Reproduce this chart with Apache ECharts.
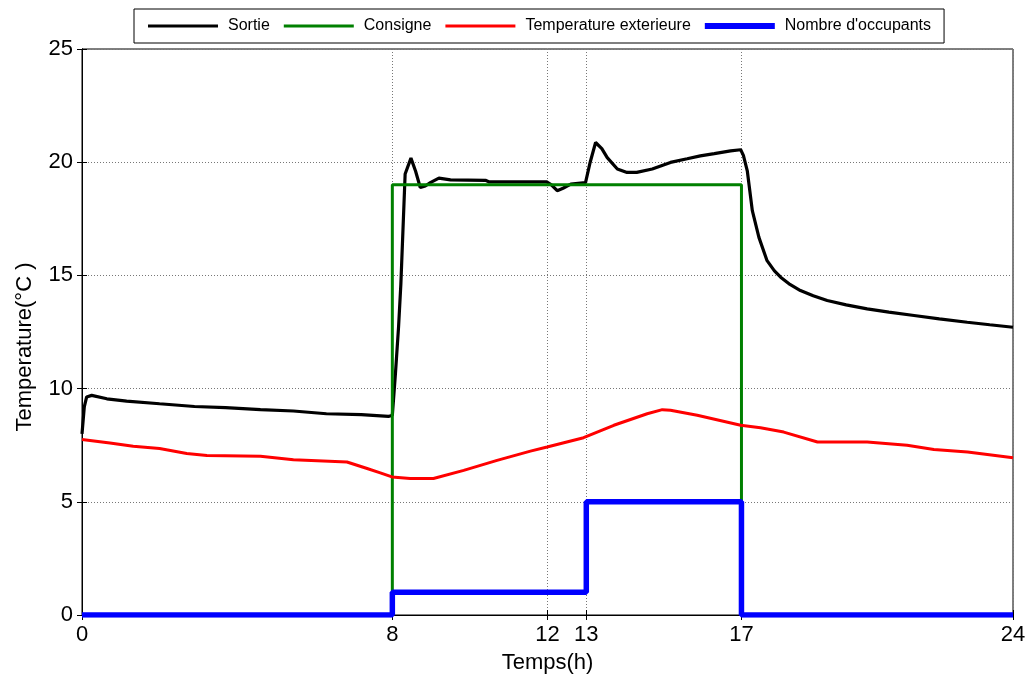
<!DOCTYPE html>
<html>
<head>
<meta charset="utf-8">
<script src="https://cdn.jsdelivr.net/npm/echarts@6/dist/echarts.min.js"></script>
<style>
html,body{margin:0;padding:0;background:#fff;}
#c{width:1029px;height:680px;}
</style>
</head>
<body>
<div id="c"></div>
<script>
// ---- data ----
const xTicks = [0, 8, 12, 13, 17, 24];
const yTicks = [0, 5, 10, 15, 20, 25];

const sortieT = [0, 0.06, 0.12, 0.25, 0.64, 1.15, 2.0, 2.9, 3.7, 4.6, 5.45, 6.3, 7.2, 7.9, 8.0, 8.08, 8.16, 8.22, 8.27, 8.33, 8.48, 8.6, 8.72, 8.85, 8.98, 9.2, 9.5, 10.4, 10.5, 11.98, 12.1, 12.25, 12.4, 12.6, 12.98, 13.1, 13.24, 13.4, 13.54, 13.8, 14.05, 14.3, 14.7, 15.17, 15.6, 15.94, 16.3, 16.72, 16.98, 17.05, 17.15, 17.28, 17.45, 17.66, 17.85, 18.01, 18.25, 18.52, 18.85, 19.21, 19.7, 20.24, 20.8, 21.45, 22.1, 22.82, 23.4, 24];
const sortieV = [8.0, 9.2, 9.63, 9.7, 9.55, 9.45, 9.33, 9.21, 9.16, 9.07, 9.01, 8.89, 8.85, 8.77, 8.82, 10.66, 12.71, 14.62, 16.83, 19.48, 20.18, 19.6, 18.88, 18.95, 19.1, 19.3, 19.22, 19.2, 19.13, 19.13, 19.0, 18.74, 18.85, 19.03, 19.1, 20.0, 20.87, 20.6, 20.2, 19.7, 19.55, 19.55, 19.7, 19.99, 20.15, 20.28, 20.38, 20.5, 20.55, 20.3, 19.62, 17.86, 16.68, 15.65, 15.2, 14.92, 14.6, 14.33, 14.1, 13.89, 13.7, 13.52, 13.38, 13.23, 13.08, 12.93, 12.82, 12.71];

const consigneT = [0, 8, 8, 17, 17, 24];
const consigneV = [0, 0, 19, 19, 0, 0];

const extT = [0, 0.72, 1.32, 2.0, 2.7, 3.22, 4.6, 5.45, 6.83, 7.35, 7.69, 7.99, 8.46, 9.06, 9.84, 10.7, 11.56, 11.99, 12.93, 13.71, 14.57, 14.96, 15.17, 15.86, 16.98, 17.49, 18.09, 18.96, 20.24, 21.27, 21.96, 22.83, 24];
const extV = [7.75, 7.6, 7.45, 7.35, 7.13, 7.05, 7.01, 6.86, 6.76, 6.47, 6.28, 6.1, 6.03, 6.03, 6.39, 6.83, 7.24, 7.42, 7.83, 8.38, 8.89, 9.07, 9.04, 8.82, 8.38, 8.27, 8.08, 7.64, 7.64, 7.5, 7.31, 7.2, 6.95];

const occT = [0, 8, 8, 13, 13, 17, 17, 24];
const occV = [0, 0, 1, 1, 5, 5, 0, 0];

const seriesNames = ['Sortie', 'Consigne', 'Temperature exterieure', "Nombre d'occupants"];

// ---- build ----
const zip = (t, v) => t.map((x, i) => [x, v[i]]);
const FONT = '"Liberation Sans", Arial, sans-serif';
const gridLine = { show: true, lineStyle: { color: '#777', type: [1, 2], width: 1 } };
const thinIcon = 'path://M0,0 L70,0 L70,3 L0,3 Z';
const thickIcon = 'path://M0,0 L70,0 L70,6 L0,6 Z';

const chart = echarts.init(document.getElementById('c'), null, { renderer: 'canvas' });
chart.setOption({
  animation: false,
  backgroundColor: '#fff',
  grid: { left: 82, right: 16, top: 49, bottom: 65, show: true, borderColor: '#000', borderWidth: 1, backgroundColor: 'transparent' },
  legend: {
    data: [
      { name: seriesNames[0], icon: thinIcon },
      { name: seriesNames[1], icon: thinIcon },
      { name: seriesNames[2], icon: thinIcon },
      { name: seriesNames[3], icon: thickIcon }
    ],
    left: 134, top: 9,
    padding: [9, 13, 9, 14],
    itemGap: 14,
    itemWidth: 70,
    itemHeight: 14,
    backgroundColor: '#fff',
    borderColor: '#000',
    borderWidth: 1,
    borderRadius: 0,
    textStyle: { fontFamily: FONT, fontSize: 16, color: '#000', padding: [0, 0, 0, 5] }
  },
  xAxis: [{
    type: 'value', min: 0, max: 24,
    name: 'Temps(h)', nameLocation: 'middle', nameGap: 37,
    nameTextStyle: { fontFamily: FONT, fontSize: 22, color: '#000' },
    axisLine: { show: true, lineStyle: { color: '#000', width: 1 } },
    axisTick: { show: true, inside: true, length: 5, customValues: xTicks, lineStyle: { color: '#000' } },
    axisLabel: { customValues: xTicks, fontFamily: FONT, fontSize: 22, color: '#000', margin: 9 },
    splitLine: gridLine
  }, {
    type: 'value', min: 0, max: 24, position: 'top',
    axisLine: { show: true, lineStyle: { color: '#000', width: 1 } },
    axisTick: { show: true, inside: true, length: 5, customValues: xTicks, lineStyle: { color: '#000' } },
    axisLabel: { show: false },
    splitLine: { show: false }
  }],
  yAxis: [{
    type: 'value', min: 0, max: 25, interval: 5,
    name: 'Temperature(°C )', nameLocation: 'middle', nameGap: 46, nameRotate: 90,
    nameTextStyle: { fontFamily: FONT, fontSize: 22, color: '#000', padding: [0, 30, 0, 0] },
    axisLine: { show: true, lineStyle: { color: '#000', width: 1 } },
    axisTick: { show: true, inside: true, length: 5, lineStyle: { color: '#000' } },
    axisLabel: { fontFamily: FONT, fontSize: 22, color: '#000', margin: 9 },
    splitLine: gridLine
  }, {
    type: 'value', min: 0, max: 25, interval: 5, position: 'right',
    axisLine: { show: true, lineStyle: { color: '#000', width: 1 } },
    axisTick: { show: true, inside: true, length: 5, lineStyle: { color: '#000' } },
    axisLabel: { show: false },
    splitLine: { show: false }
  }],
  series: [
    { name: seriesNames[0], type: 'line', data: zip(sortieT, sortieV), symbol: 'none', color: '#000000', lineStyle: { width: 3.2, color: '#000000' } },
    { name: seriesNames[1], type: 'line', data: zip(consigneT, consigneV), symbol: 'none', color: '#008000', lineStyle: { width: 3, color: '#008000' } },
    { name: seriesNames[2], type: 'line', data: zip(extT, extV), symbol: 'none', color: '#ff0000', lineStyle: { width: 3, color: '#ff0000' } },
    { name: seriesNames[3], type: 'line', data: zip(occT, occV), symbol: 'none', color: '#0000ff', lineStyle: { width: 5.5, color: '#0000ff' } }
  ]
});
</script>
</body>
</html>
